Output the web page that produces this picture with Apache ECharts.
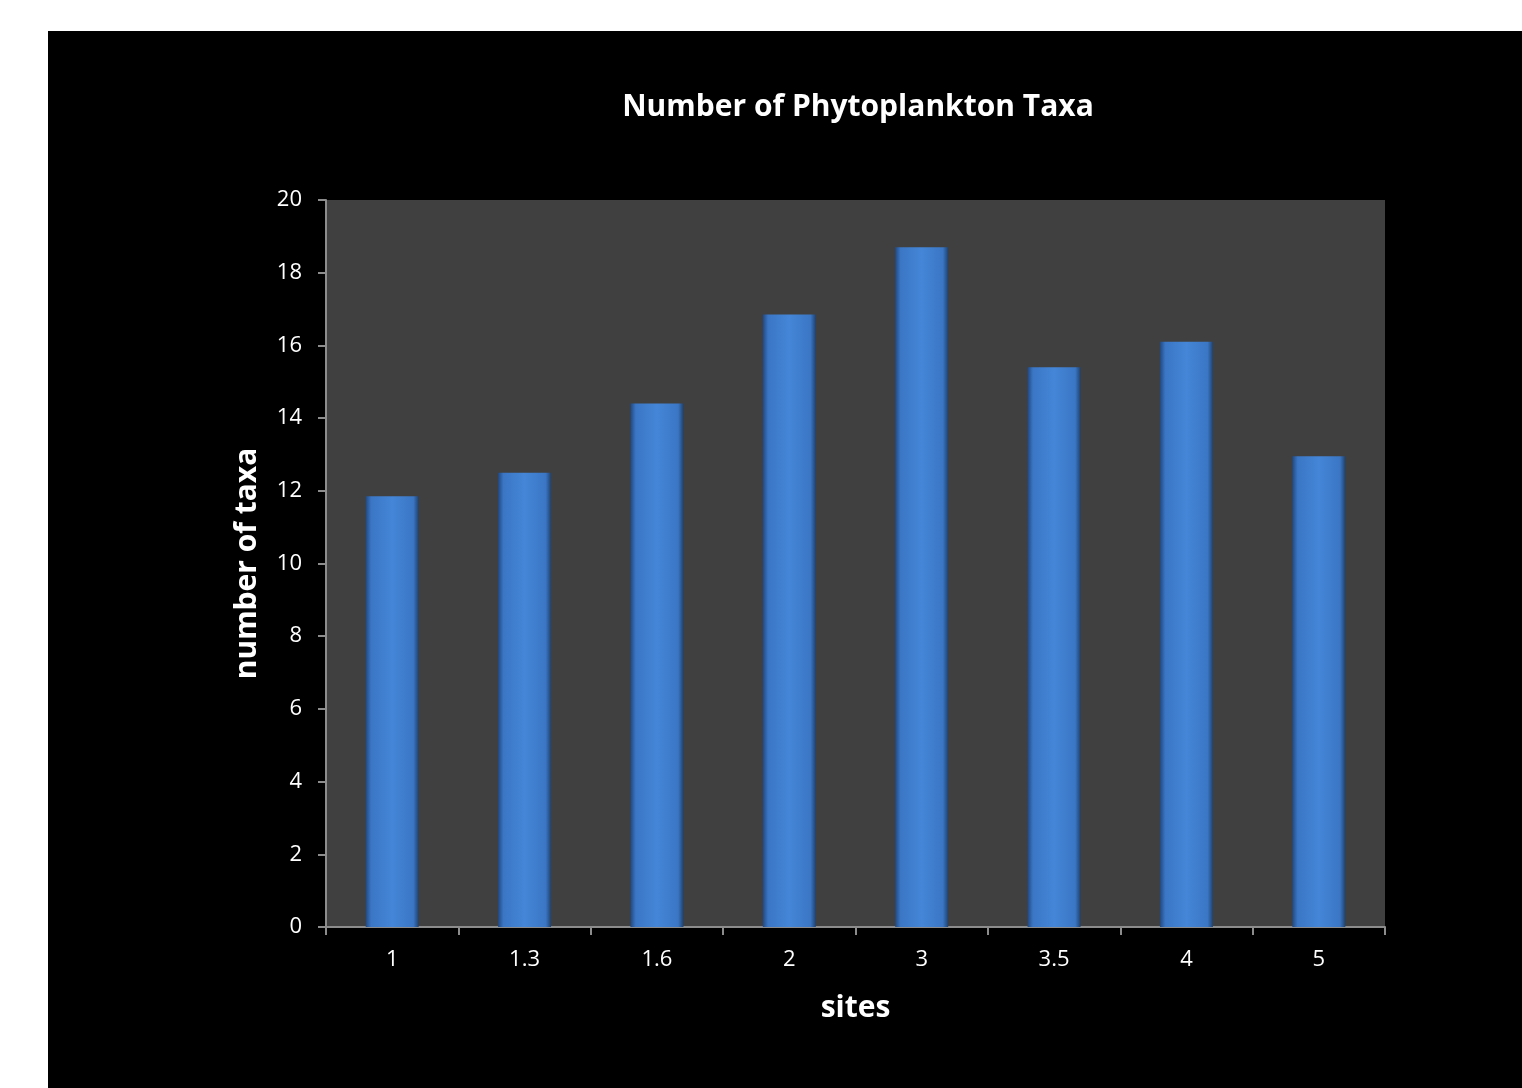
<!DOCTYPE html>
<html>
<head>
<meta charset="utf-8">
<script src="https://cdn.jsdelivr.net/npm/echarts@6/dist/echarts.min.js"></script>
<style>
  html, body { margin: 0; padding: 0; background: #ffffff; }
  #chart { position: absolute; left: 48px; top: 31px; width: 1474px; height: 1057px; }
</style>
</head>
<body>
<div id="chart"></div>
<script>
const sites = ['1', '1.3', '1.6', '2', '3', '3.5', '4', '5']
const taxa = [11.85, 12.5, 14.4, 16.85, 18.7, 15.4, 16.1, 12.95]

const chart = echarts.init(document.getElementById('chart'))
const font = '"Open Sans", "Noto Sans", sans-serif'

const barColor = new echarts.graphic.LinearGradient(0, 0, 1, 0, [
  { offset: 0, color: '#22487f' },
  { offset: 0.1, color: '#3a76c4' },
  { offset: 0.5, color: '#4586d8' },
  { offset: 0.9, color: '#3a76c4' },
  { offset: 1, color: '#1f4270' }
])

const option = {
  backgroundColor: '#000000',
  animation: false,
  title: {
    text: 'Number of Phytoplankton Taxa',
    left: 805,
    top: 56,
    textAlign: 'center',
    textStyle: { color: '#ffffff', fontSize: 30, fontWeight: 'bold', fontFamily: font }
  },
  grid: {
    left: 278,
    top: 169,
    right: 137,
    bottom: 161,
    show: true,
    backgroundColor: '#404040',
    borderWidth: 0
  },
  xAxis: {
    type: 'category',
    data: sites,
    name: 'sites',
    nameLocation: 'middle',
    nameGap: 66,
    nameTextStyle: { color: '#ffffff', fontSize: 30, fontWeight: 'bold', fontFamily: font },
    axisLine: { lineStyle: { color: '#8c8c8c', width: 2 } },
    axisTick: { show: true, length: 8, lineStyle: { color: '#8c8c8c', width: 2 } },
    axisLabel: { color: '#ffffff', fontSize: 22, margin: 22, fontFamily: font }
  },
  yAxis: {
    type: 'value',
    min: 0,
    max: 20,
    interval: 2,
    name: 'number of taxa',
    nameLocation: 'middle',
    nameGap: 64,
    nameTextStyle: { color: '#ffffff', fontSize: 30, fontWeight: 'bold', fontFamily: font },
    axisLine: { show: true, lineStyle: { color: '#8c8c8c', width: 2 } },
    axisTick: { show: true, length: 8, lineStyle: { color: '#8c8c8c', width: 2 } },
    splitLine: { show: false },
    axisLabel: { color: '#ffffff', fontSize: 22, margin: 24, fontFamily: font }
  },
  series: [
    {
      type: 'bar',
      data: taxa,
      barWidth: 53,
      itemStyle: {
        color: barColor
      }
    }
  ]
}

chart.setOption(option)
</script>
</body>
</html>
